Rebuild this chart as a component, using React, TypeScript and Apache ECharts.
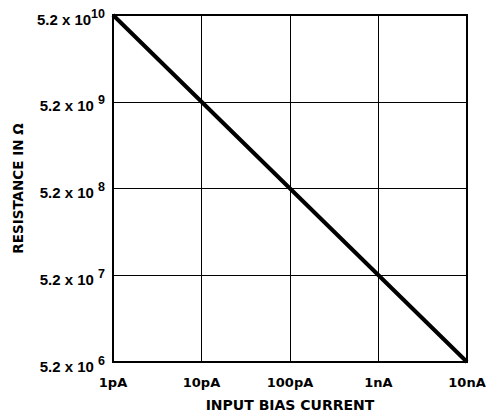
import React, { useEffect, useRef } from "react";
import * as echarts from "echarts";

const currents = ["1pA", "10pA", "100pA", "1nA", "10nA"];
// resistance = 5.2 x 10^exp
const resistanceExp = [10, 9, 8, 7, 6];
const xTitle = "INPUT BIAS CURRENT";
const yTitle = "RESISTANCE IN Ω";

const ARIAL = "'Liberation Sans', Arial, sans-serif";
const WIDE = "'DejaVu Sans', sans-serif";

export default function App() {
  const ref = useRef<HTMLDivElement>(null);
  useEffect(() => {
    const chart = echarts.init(ref.current!, undefined, { renderer: "svg" });
    chart.setOption({
      animation: false,
      backgroundColor: "#fff",
      grid: {
        left: 113,
        top: 15,
        right: 24,
        bottom: 49,
        show: true,
        borderColor: "#000",
        borderWidth: 2,
        containLabel: false,
      },
      xAxis: {
        type: "category",
        data: currents,
        boundaryGap: false,
        axisLine: { show: false },
        axisTick: { show: false },
        splitLine: { show: true, lineStyle: { color: "#000", width: 1 } },
        axisLabel: {
          margin: 14,
          color: "#000",
          fontFamily: WIDE,
          fontWeight: "bold",
          fontSize: 13,
        },
        name: xTitle,
        nameLocation: "middle",
        nameGap: 36,
        nameTextStyle: { color: "#000", fontFamily: WIDE, fontWeight: "bold", fontSize: 14 },
      },
      yAxis: {
        type: "value",
        min: 6,
        max: 10,
        interval: 1,
        axisLine: { show: false },
        axisTick: { show: false },
        splitLine: { show: true, lineStyle: { color: "#000", width: 1 } },
        axisLabel: {
          margin: 8,
          color: "#000",
          fontFamily: ARIAL,
          fontWeight: "bold",
          fontSize: 15,
          formatter: (v: number) =>
            v === 10 ? "{m|5.2 x 10}{s|" + v + "}" : "{m|5.2 x 10 }{s|" + v + "}",
          rich: {
            m: { fontFamily: ARIAL, fontWeight: "bold", fontSize: 15, color: "#000", padding: [8, 0, 0, 0] },
            s: { fontFamily: ARIAL, fontWeight: "bold", fontSize: 12.5, color: "#000", padding: [0, 0, 3, 0] },
          },
        },
        name: yTitle,
        nameLocation: "middle",
        nameGap: 88,
        nameTextStyle: { color: "#000", fontFamily: WIDE, fontWeight: "bold", fontSize: 13.5 },
      },
      series: [
        {
          type: "line",
          data: resistanceExp,
          symbol: "none",
          lineStyle: { color: "#000", width: 4 },
        },
      ],
    });
    return () => chart.dispose();
  }, []);
  return <div ref={ref} style={{ width: 491, height: 417, position: "absolute", left: 0, top: 0 }} />;
}
